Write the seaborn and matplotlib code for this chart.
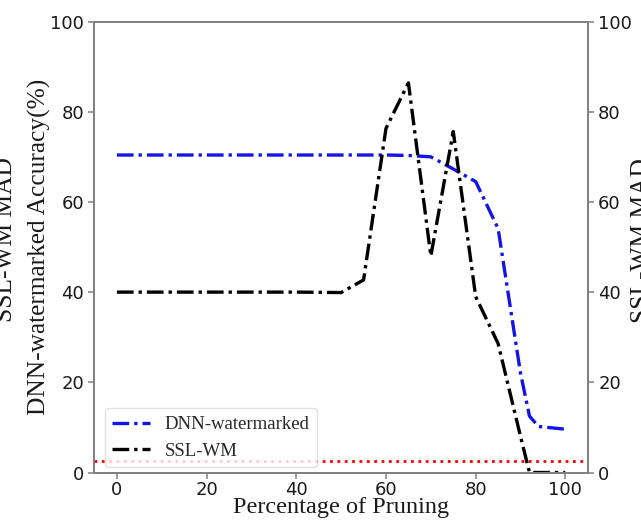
import matplotlib
matplotlib.use("Agg")
import matplotlib.pyplot as plt
import pandas as pd
import seaborn as sns

# ---- data ----
pruning = [0, 10, 20, 30, 40, 50, 55, 60, 65, 70, 75, 80, 85, 90, 92, 94, 96, 98, 100]
dnn_acc = [70.4, 70.4, 70.4, 70.4, 70.4, 70.4, 70.4, 70.4, 70.3, 70.0, 67.3, 64.5, 54.1,
           22.0, 12.5, 10.2, 10.0, 9.8, 9.6]
ssl_mad = [40.0, 40.0, 40.0, 40.0, 40.0, 39.9, 42.7, 76.3, 86.4, 48.0, 75.6, 39.0, 28.6,
           8.0, 0.0, 0.0, 0.0, 0.0, 0.0]
threshold = 2.5
x_ticks = [0, 20, 40, 60, 80, 100]
y_ticks = [0, 20, 40, 60, 80, 100]
series_names = ["DNN-watermarked", "SSL-WM"]
xlabel = "Percentage of Pruning"
ylabel_left = "DNN-watermarked Accuracy(%)"
ylabel_right = "SSL-WM MAD"

sns.set_style("ticks")
plt.rcParams["font.family"] = ["DejaVu Sans"]
serif = ["Liberation Serif", "DejaVu Serif"]

df = pd.DataFrame({"pruning": pruning, "dnn": dnn_acc, "ssl": ssl_mad})

fig = plt.figure(figsize=(6.41, 5.25), dpi=100)
ax = fig.add_axes([0.1474, 0.100, 0.917 - 0.1474, 0.959 - 0.100])

dashdot = (0, (5, 1.5, 1, 1.5))
sns.lineplot(data=df, x="pruning", y="dnn", ax=ax, color="#1414e6", linewidth=2.4,
             linestyle=dashdot, label=series_names[0])
sns.lineplot(data=df, x="pruning", y="ssl", ax=ax, color="black", linewidth=2.4,
             linestyle=dashdot, label=series_names[1])
ax.axhline(threshold, color="red", linestyle=":", linewidth=2)

ax.set_xlim(-5, 105)
ax.set_ylim(0, 100)
ax.set_xticks(x_ticks)
ax.set_yticks(y_ticks)

ax2 = ax.twinx()
ax2.set_ylim(0, 100)
ax2.set_yticks(y_ticks)

for a in (ax, ax2):
    for s in a.spines.values():
        s.set_visible(True)
        s.set_color("0.5")
        s.set_linewidth(1.3)
    a.tick_params(colors="0.5", labelcolor="0.1", labelsize=13, length=4, width=1.1)
ax.tick_params(axis="x", pad=2)

ax.set_xlabel(xlabel, family=serif, fontsize=17.5, color="0.1")
ax.xaxis.set_label_coords(0.5, -0.055)
ax.set_ylabel(ylabel_left, family=serif, fontsize=18.3, color="0.1")
ax.yaxis.set_label_coords(-0.089, 0.5)
ax2.set_ylabel(ylabel_right, family=serif, fontsize=18.3, color="0.1")
ax2.yaxis.set_label_coords(1.087, 0.515)
fig.text(17 / 641, 1 - 240 / 525, ylabel_right, family=serif, fontsize=18.3,
         color="0.1", rotation=90, ha="right", va="center")

leg = ax.legend(loc="lower left", bbox_to_anchor=(0.021, 0.012), borderaxespad=0,
                prop={"family": serif, "size": 13.5}, frameon=True, fancybox=True)
leg.get_frame().set_edgecolor("0.85")

fig.savefig("out.png", dpi=100)
